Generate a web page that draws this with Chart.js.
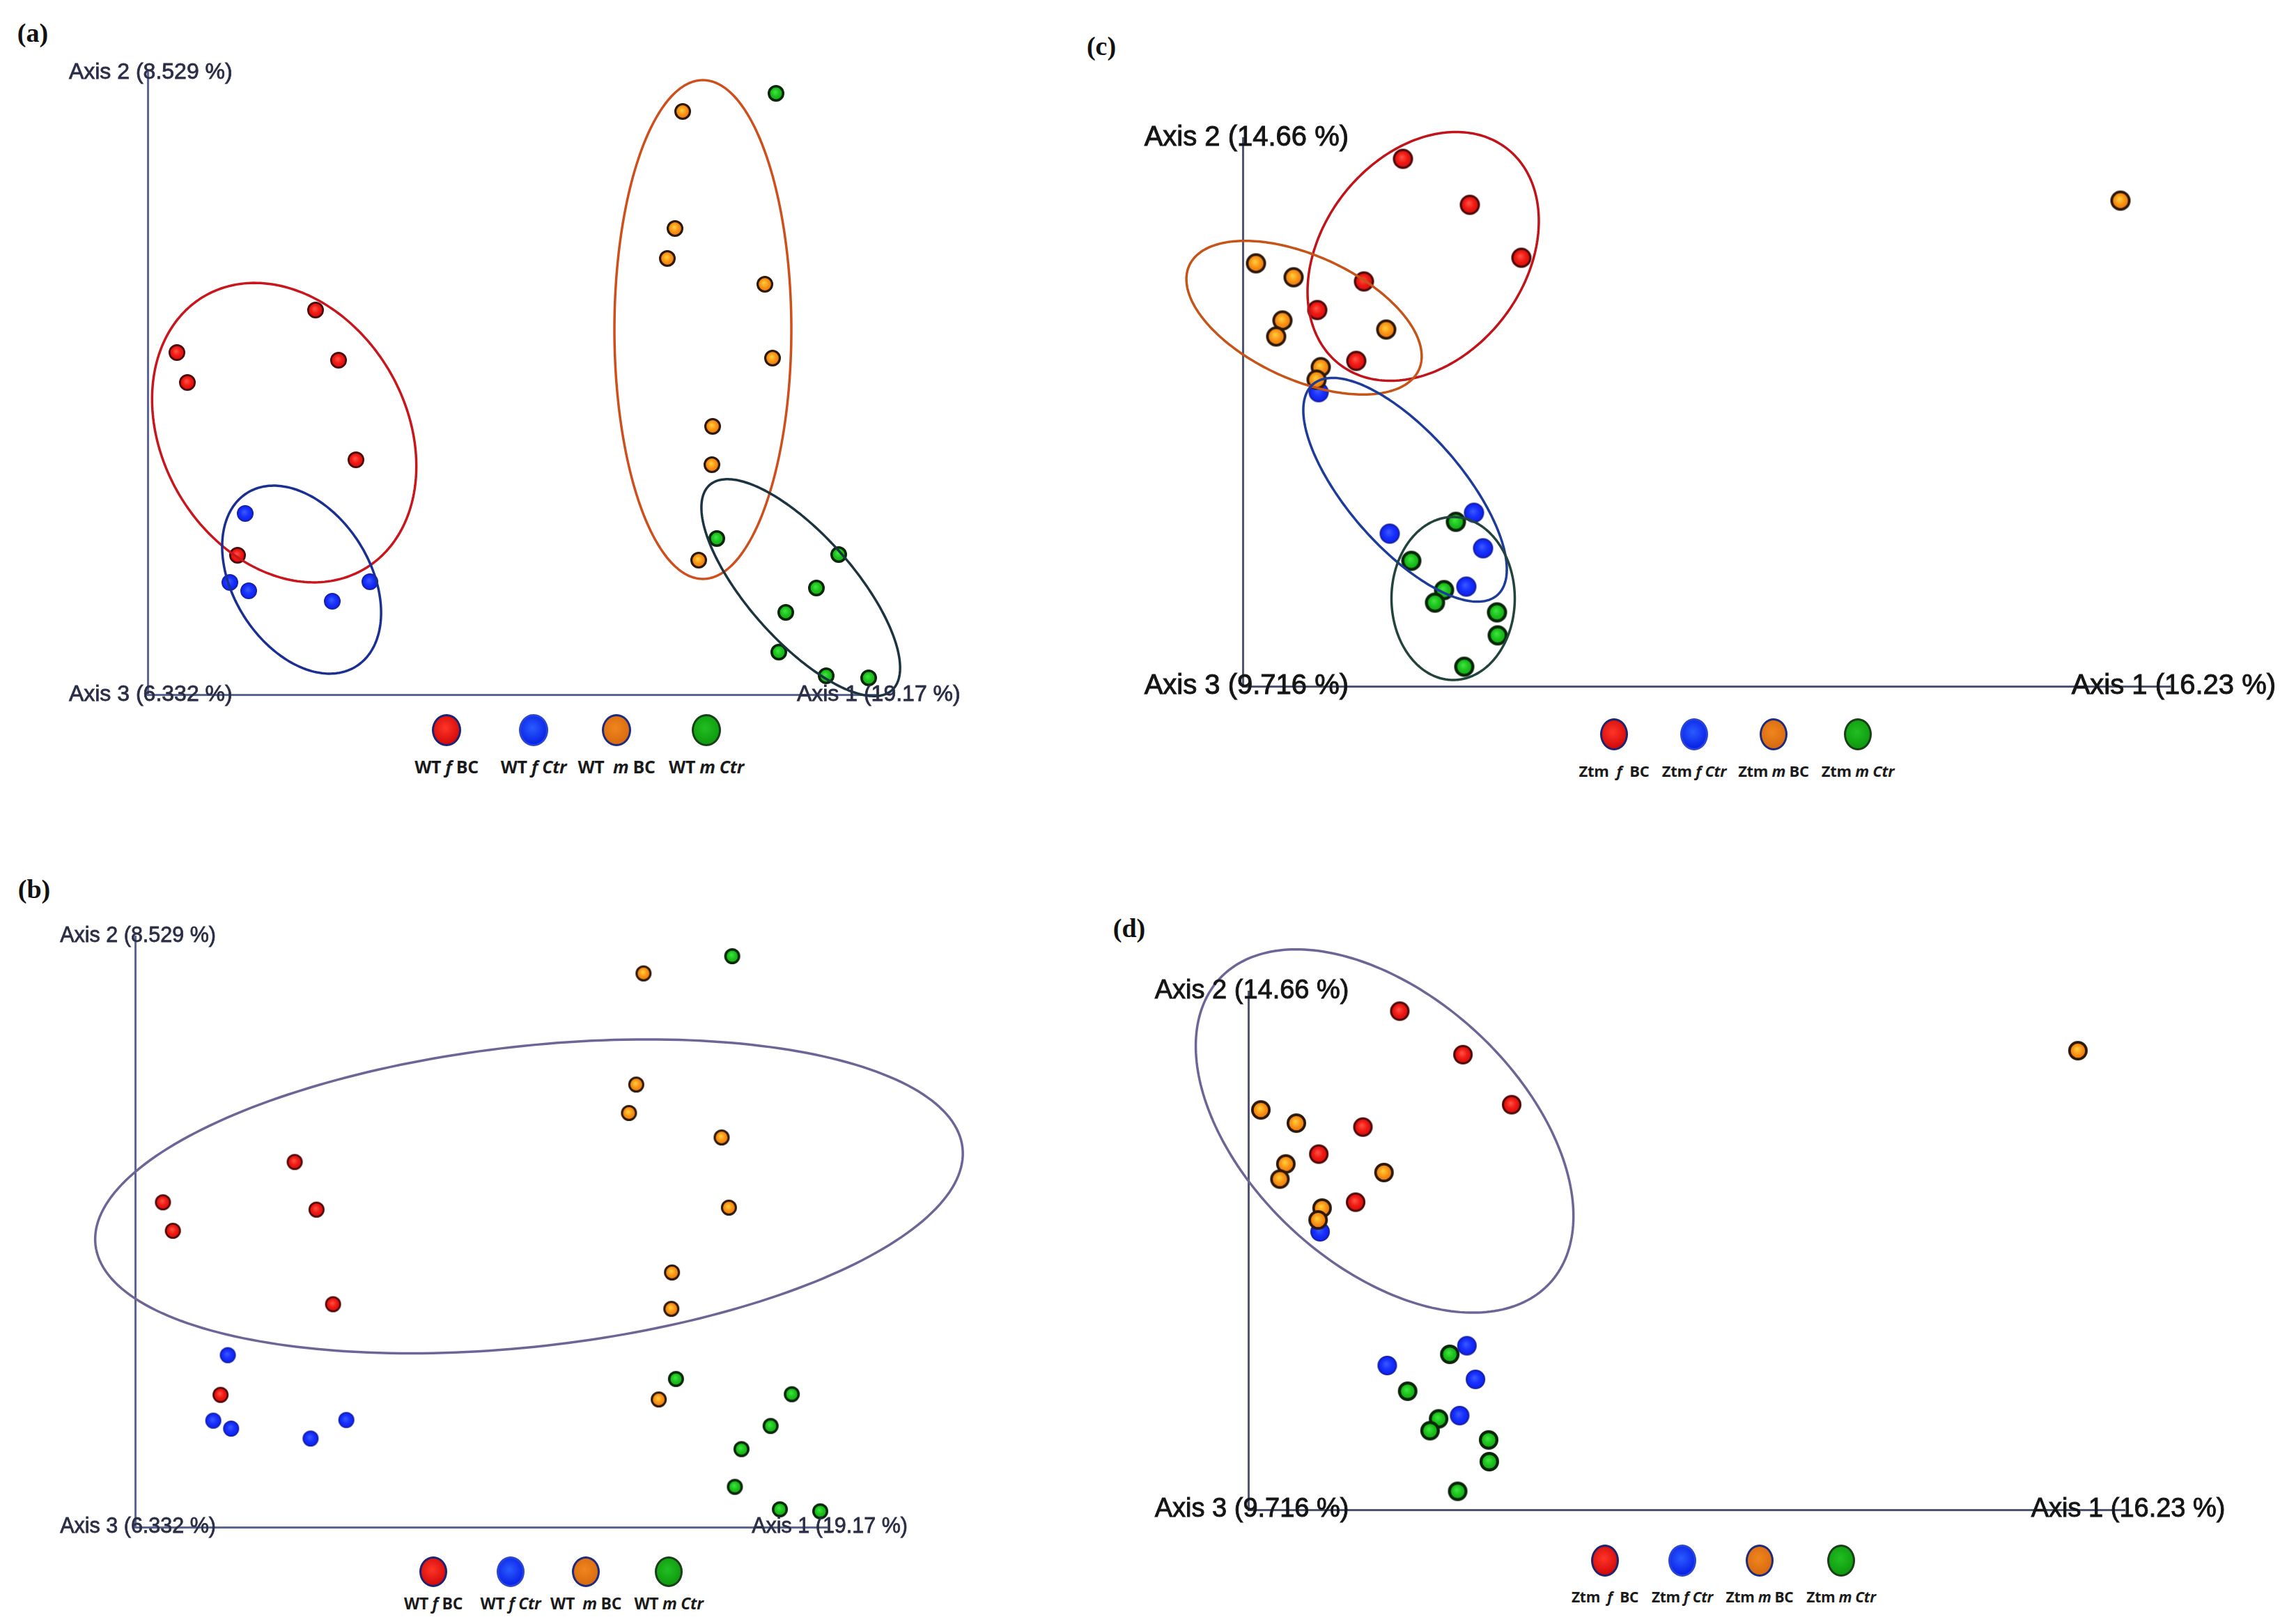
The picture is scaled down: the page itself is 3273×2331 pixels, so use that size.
<!DOCTYPE html>
<html>
<head>
<meta charset="utf-8">
<script src="https://cdn.jsdelivr.net/npm/chart.js@4.4.1/dist/chart.umd.min.js"></script>
<style>
  html, body { margin: 0; padding: 0; background: #fff; }
  body { width: 3273px; height: 2331px; position: relative; overflow: hidden; font-family: "Liberation Sans", Arial, sans-serif; }
  .panel { position: absolute; }
  .panel canvas { display: block; }
  .tag { position: absolute; transform: translate(-50%, -50%); font-family: "Liberation Serif", "Times New Roman", serif; font-weight: bold; font-size: 38px; color: #111; line-height: 1; }
  .leg-dot { position: absolute; border-radius: 50%; box-sizing: border-box; transform: translate(-50%, -50%); }
  .leg-txt { position: absolute; transform: translate(-50%, -50%); white-space: nowrap; color: #1a1a1a; line-height: 1; font-family: "Liberation Sans Narrow", "Open Sans", sans-serif; font-weight: bold; letter-spacing: -0.3px; }
</style>
</head>
<body>
<div class="tag" style="left:47px;top:47px">(a)</div>
<div class="tag" style="left:49px;top:1276px">(b)</div>
<div class="tag" style="left:1581px;top:66px">(c)</div>
<div class="tag" style="left:1621px;top:1332px">(d)</div>

<div class="panel" style="left:0;top:0"><canvas id="chartA" width="1420" height="1022"></canvas></div>
<div class="panel" style="left:0;top:1240px"><canvas id="chartB" width="1420" height="980"></canvas></div>
<div class="panel" style="left:1560px;top:0"><canvas id="chartC" width="1713" height="1010"></canvas></div>
<div class="panel" style="left:1560px;top:1240px"><canvas id="chartD" width="1713" height="955"></canvas></div>
<div id="legends"></div>

<script>
// group names (legend order)
const wtGroups = ['WT f BC', 'WT f Ctr', 'WT m BC', 'WT m Ctr'];
const wtLegend = ['WT <i>f</i> BC', 'WT <i>f Ctr</i>', 'WT&nbsp; <i>m</i> BC', 'WT <i>m Ctr</i>'];
const ztmGroups = ['Ztm f BC', 'Ztm f Ctr', 'Ztm m BC', 'Ztm m Ctr'];
const ztmLegend = ['Ztm&nbsp; <i>f</i>&nbsp; BC', 'Ztm <i>f Ctr</i>', 'Ztm <i>m</i> BC', 'Ztm <i>m Ctr</i>'];

// axis titles
const wtAxisTitles = ['Axis 1 (19.17 %)', 'Axis 2 (8.529 %)', 'Axis 3 (6.332 %)'];
const ztmAxisTitles = ['Axis 1 (16.23 %)', 'Axis 2 (14.66 %)', 'Axis 3 (9.716 %)'];

// axis extents (score units, Axis 1 / Axis 2)
const wtAxisMax = [104.5, 89.3];
const ztmAxisMax = [133.1, 78.7];

// WT scores [Axis 1, Axis 2]
const wtFemaleBC  = [[24.1, 55.2], [4.2, 49.1], [27.4, 48.0], [5.7, 44.8], [29.9, 33.7], [12.9, 20.0]];
const wtFemaleCtr = [[14.0, 26.0], [11.8, 16.1], [14.5, 14.9], [26.5, 13.4], [31.9, 16.2]];
const wtMaleBC    = [[76.8, 83.7], [75.7, 66.9], [74.6, 62.6], [88.6, 58.9], [89.7, 48.3], [81.1, 38.5], [81.0, 33.0], [79.1, 19.3]];
const wtMaleCtr   = [[90.2, 86.3], [81.7, 22.4], [99.2, 20.1], [96.0, 15.3], [91.6, 11.8], [90.6, 6.1], [97.4, 2.7], [103.5, 2.4]];

// Ztm scores [Axis 1, Axis 2]
const ztmFemaleBC  = [[23.0, 75.7], [32.6, 69.1], [40.0, 61.5], [17.4, 58.1], [10.7, 54.0], [16.3, 46.7]];
const ztmFemaleCtr = [[10.9, 42.2], [33.2, 24.9], [21.1, 21.9], [34.5, 19.8], [32.1, 14.3]];
const ztmMaleBC    = [[126.0, 69.7], [1.9, 60.7], [7.3, 58.7], [5.7, 52.5], [4.8, 50.2], [20.6, 51.2], [11.2, 45.8], [10.6, 44.0]];
const ztmMaleCtr   = [[30.6, 23.6], [24.2, 18.0], [28.9, 13.8], [27.6, 12.0], [36.5, 10.6], [36.6, 7.3], [31.8, 2.8]];

// confidence ellipses: centre, semi-axes, rotation (deg)
const wtGroupEllipses = [
  { cx: 19.6, cy: 37.6, a: 22.7, b: 17.5, angle: -59.6, color: '#c8161c' },
  { cx: 22.1, cy: 16.5, a: 14.7, b: 9.8, angle: -57.8, color: '#1a2f92' },
  { cx: 79.7, cy: 52.4, a: 12.7, b: 35.8, angle: 0, color: '#cf4f1c' },
  { cx: 93.75, cy: 15.35, a: 19.7, b: 7.6, angle: -48.4, color: '#1c3440' }
];
const wtAllEllipse = [{ cx: 59.5, cy: 50.0, a: 65.9, b: 22.7, angle: 6.4, color: '#6e6596' }];
const ztmGroupEllipses = [
  { cx: 25.9, cy: 61.7, a: 19.6, b: 14.5, angle: 52.2, color: '#c0141a' },
  { cx: 8.8, cy: 52.9, a: 18.1, b: 8.9, angle: -24.4, color: '#c65418' },
  { cx: 23.3, cy: 28.2, a: 20.1, b: 8.2, angle: -48.8, color: '#1d3c9a' },
  { cx: 30.2, cy: 12.6, a: 8.85, b: 11.7, angle: 0, color: '#22443c' }
];
const ztmAllEllipse = [{ cx: 20.7, cy: 57.5, a: 34.1, b: 20.5, angle: -42.6, color: '#6e6596' }];

// marker looks, legend order
const dotStyles = [
  { stops: ['#ff5545', '#f01a14', '#d00808'], edge: '#4a0a0a', bw: 2.2, css: 'radial-gradient(circle at 45% 42%, #ff3528, #d20a0a 75%)', ring: '#1c2470' },
  { stops: ['#3a5cff', '#1a32ff', '#0a1ce8'], edge: '#1622a8', bw: 1.5, css: 'radial-gradient(circle at 45% 42%, #2a5cff, #0a22e6 75%)', ring: '#2a44d8' },
  { stops: ['#ffd23a', '#fa9418', '#e86800'], edge: '#2a1808', bw: 2.6, css: 'radial-gradient(circle at 45% 42%, #f0861e, #d86a10 75%)', ring: '#1c2a80' },
  { stops: ['#40e840', '#1cc01c', '#0ea40e'], edge: '#0a260a', bw: 3.0, css: 'radial-gradient(circle at 45% 42%, #22be22, #0e9a0e 75%)', ring: '#1a3e1a' }
];
const drawOrder = [1, 2, 0, 3]; // orange on top, green below

function dotSprite(s, r) {
  const bw = s.bw * r / 10;
  const size = Math.ceil(2 * r + 4);
  const c = document.createElement('canvas');
  c.width = c.height = size;
  const g = c.getContext('2d');
  const m = size / 2;
  const grad = g.createRadialGradient(m - r * 0.12, m - r * 0.18, 0, m, m, r);
  grad.addColorStop(0, s.stops[0]);
  grad.addColorStop(0.5, s.stops[1]);
  grad.addColorStop(1, s.stops[2]);
  g.beginPath();
  g.arc(m, m, r - bw / 2, 0, Math.PI * 2);
  g.fillStyle = grad;
  g.fill();
  g.lineWidth = bw;
  g.strokeStyle = s.edge;
  g.stroke();
  return c;
}

function ellipsePlugin(list, width) {
  return {
    id: 'ellipses',
    afterDatasetsDraw(chart) {
      const { ctx, scales: { x, y } } = chart;
      list.forEach(e => {
        const phi = e.angle * Math.PI / 180;
        ctx.save();
        ctx.beginPath();
        for (let i = 0; i <= 240; i++) {
          const t = i / 240 * Math.PI * 2;
          const dx = e.a * Math.cos(t), dy = e.b * Math.sin(t);
          const px = x.getPixelForValue(e.cx + dx * Math.cos(phi) - dy * Math.sin(phi));
          const py = y.getPixelForValue(e.cy + dx * Math.sin(phi) + dy * Math.cos(phi));
          i ? ctx.lineTo(px, py) : ctx.moveTo(px, py);
        }
        ctx.closePath();
        ctx.strokeStyle = e.color;
        ctx.lineWidth = width;
        ctx.stroke();
        ctx.restore();
      });
    }
  };
}

function axisTitlePlugin(titles, fontPx, color) {
  return {
    id: 'axisTitles',
    afterDraw(chart) {
      const { ctx, chartArea: ca } = chart;
      ctx.save();
      ctx.font = fontPx + 'px "Liberation Sans", Arial, sans-serif';
      ctx.fillStyle = color;
      ctx.strokeStyle = color;
      ctx.lineWidth = fontPx * 0.025;
      ctx.textBaseline = 'middle';
      const off = s => ctx.measureText(s.slice(0, s.indexOf('(') + 1)).width + fontPx * 0.2;
      const put = (s, x, y) => { ctx.fillText(s, x, y); ctx.strokeText(s, x, y); };
      put(titles[1], ca.left - off(titles[1]), ca.top);
      put(titles[2], ca.left - off(titles[2]), ca.bottom);
      put(titles[0], ca.right - off(titles[0]), ca.bottom);
      ctx.restore();
    }
  };
}

function drawPanel(cfg) {
  const sprites = dotStyles.map(s => dotSprite(s, cfg.dotR));
  new Chart(document.getElementById(cfg.id), {
    type: 'scatter',
    data: {
      datasets: cfg.groups.map((g, i) => ({
        label: cfg.names[i],
        data: g.map(p => ({ x: p[0], y: p[1] })),
        pointStyle: sprites[i],
        pointRadius: cfg.dotR,
        pointHoverRadius: cfg.dotR,
        order: drawOrder[i],
        clip: false
      }))
    },
    options: {
      responsive: false,
      animation: false,
      events: [],
      layout: { padding: cfg.pad },
      plugins: { legend: { display: false }, tooltip: { enabled: false } },
      scales: {
        x: {
          type: 'linear', min: 0, max: cfg.axisMax[0],
          grid: { display: false, drawTicks: false, tickLength: 0 },
          ticks: { display: false },
          border: { display: true, color: cfg.axisColor, width: 3 }
        },
        y: {
          type: 'linear', min: 0, max: cfg.axisMax[1],
          grid: { display: false, drawTicks: false, tickLength: 0 },
          ticks: { display: false },
          border: { display: true, color: cfg.axisColor, width: 3 }
        }
      }
    },
    plugins: [ellipsePlugin(cfg.ellipses, cfg.ellipseWidth), axisTitlePlugin(cfg.titles, cfg.titleFont, cfg.titleColor)]
  });

  // legend below the plot
  const box = document.getElementById('legends');
  cfg.legendX.forEach((lx, i) => {
    const s = dotStyles[i];
    const d = document.createElement('div');
    d.className = 'leg-dot';
    d.style.cssText = `left:${lx}px;top:${cfg.legendY}px;width:${cfg.legDot[0]}px;height:${cfg.legDot[1]}px;background:${s.css};border:3px solid ${s.ring};`;
    box.appendChild(d);
    const t = document.createElement('div');
    t.className = 'leg-txt';
    t.style.cssText = `left:${lx}px;top:${cfg.legendY + cfg.legTextDy}px;font-size:${cfg.legFont}px;`;
    t.innerHTML = cfg.legend[i];
    box.appendChild(t);
  });
}

const wtData = [wtFemaleBC, wtFemaleCtr, wtMaleBC, wtMaleCtr];
const ztmData = [ztmFemaleBC, ztmFemaleCtr, ztmMaleBC, ztmMaleCtr];

drawPanel({
  id: 'chartA', groups: wtData, names: wtGroups, legend: wtLegend, titles: wtAxisTitles,
  axisMax: wtAxisMax, pad: { left: 212, top: 104, right: 163, bottom: 25 },
  ellipses: wtGroupEllipses, ellipseWidth: 3.5, dotR: 12,
  axisColor: '#5c6694', titleFont: 32, titleColor: '#2a2e46',
  legendX: [641, 766, 885, 1014], legendY: 1048, legDot: [42, 46], legTextDy: 52, legFont: 25
});
drawPanel({
  id: 'chartB', groups: wtData, names: wtGroups, legend: wtLegend, titles: wtAxisTitles,
  axisMax: wtAxisMax, pad: { left: 194, top: 104, right: 233, bottom: 28 },
  ellipses: wtAllEllipse, ellipseWidth: 3.5, dotR: 11.5,
  axisColor: '#5c6694', titleFont: 30.5, titleColor: '#2a2e46',
  legendX: [622, 733, 841, 960], legendY: 2256, legDot: [40, 44], legTextDy: 45, legFont: 23
});
drawPanel({
  id: 'chartC', groups: ztmData, names: ztmGroups, legend: ztmLegend, titles: ztmAxisTitles,
  axisMax: ztmAxisMax, pad: { left: 224, top: 198, right: 158, bottom: 25 },
  ellipses: ztmGroupEllipses, ellipseWidth: 3.5, dotR: 14.5,
  axisColor: '#4e5574', titleFont: 40, titleColor: '#151515',
  legendX: [2317, 2432, 2546, 2667], legendY: 1054, legDot: [40, 46], legTextDy: 52, legFont: 22
});
drawPanel({
  id: 'chartD', groups: ztmData, names: ztmGroups, legend: ztmLegend, titles: ztmAxisTitles,
  axisMax: ztmAxisMax, pad: { left: 232, top: 183, right: 223, bottom: 28 },
  ellipses: ztmAllEllipse, ellipseWidth: 3.5, dotR: 14,
  axisColor: '#4e5574', titleFont: 38, titleColor: '#151515',
  legendX: [2304, 2415, 2526, 2643], legendY: 2240, legDot: [40, 46], legTextDy: 52, legFont: 21
});
</script>
</body>
</html>
